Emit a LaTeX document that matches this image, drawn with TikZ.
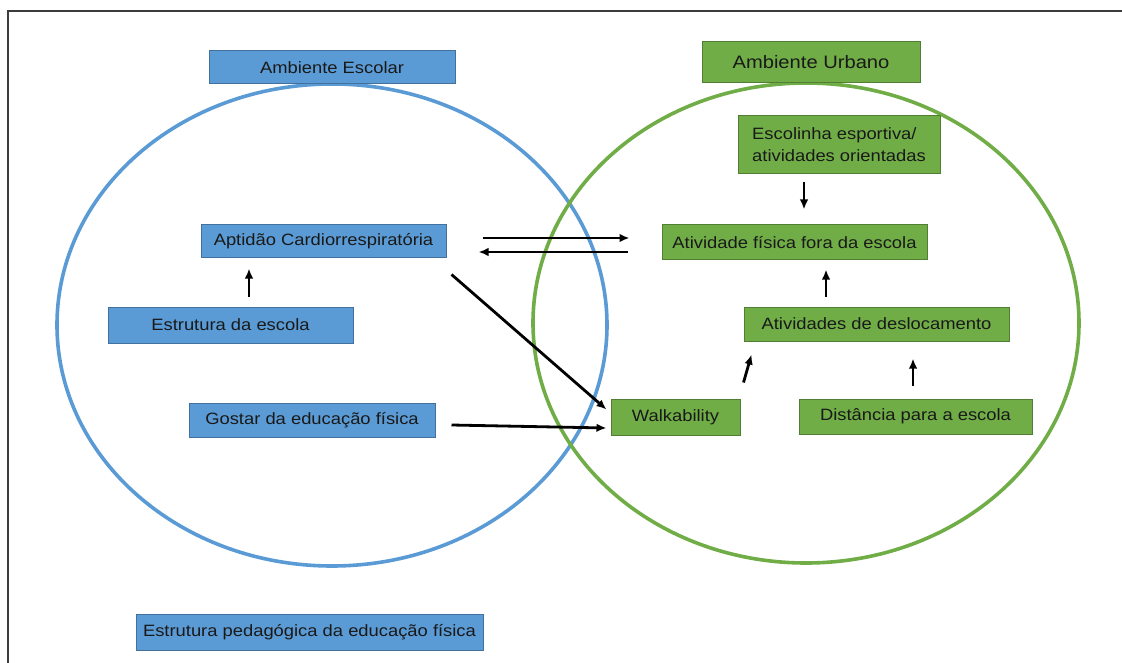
\documentclass[tikz,border=0pt]{standalone}
\usepackage{fontspec}
\setmainfont{Liberation Sans}[FakeStretch=1.12]
\usepackage{tikz}
\usetikzlibrary{arrows.meta,calc}
\definecolor{escfill}{RGB}{91,155,213}
\definecolor{escline}{RGB}{65,113,156}
\definecolor{urbfill}{RGB}{112,173,71}
\definecolor{urbline}{RGB}{80,126,50}
\definecolor{frame}{RGB}{60,60,60}

\begin{document}
\begin{tikzpicture}[x=1pt, y=-1pt, >={Latex[length=10pt,width=8.5pt]},
  box/.style={draw, line width=1pt, inner sep=0pt, text=black!90, font=\fontsize{16.4}{22}\selectfont},
  escbox/.style={box, fill=escfill, draw=escline},
  urbbox/.style={box, fill=urbfill, draw=urbline},
  arr/.style={->, line width=2.8pt}]

\useasboundingbox (0,0) rectangle (1122,663);
\draw[frame, line width=2pt] (8,663) -- (8,11) -- (1122,11);

% the two environments
\draw[escfill, line width=3.6pt] (332,325) ellipse [x radius=275pt, y radius=241pt];
\draw[urbfill, line width=3.6pt] (806,323) ellipse [x radius=273pt, y radius=240pt];

\node (escolar)[escbox, minimum width=246pt, minimum height=33pt] at (332,67.5) {Ambiente Escolar};
\node (aptidao)[escbox, minimum width=245pt, minimum height=33pt] at (323.5,241.5) {Aptidão Cardiorrespiratória};
\node (estrutura)[escbox, minimum width=245pt, minimum height=36pt] at (230.5,325) {Estrutura da escola};
\node (gostar)[escbox, minimum width=246pt, minimum height=34pt] at (312,420) {Gostar da educação física};
\node (pedag)[escbox, minimum width=347pt, minimum height=36pt] at (309.5,632) {Estrutura pedagógica da educação física};

\node (urbano)[urbbox, minimum width=218pt, minimum height=41pt, font=\fontsize{18}{22}\selectfont] at (811,62.5) {Ambiente Urbano};
\node (escolinha)[urbbox, minimum width=202pt, minimum height=58pt, align=left] at (839,145) {Escolinha esportiva/\\atividades orientadas};
\node (afora)[urbbox, minimum width=265pt, minimum height=35pt] at (794.5,242.5) {Atividade física fora da escola};
\node (desloc)[urbbox, minimum width=265pt, minimum height=34pt] at (876.5,324) {Atividades de deslocamento};
\node (walk)[urbbox, minimum width=129pt, minimum height=36pt] at (675.5,417) {Walkability};
\node (dist)[urbbox, minimum width=233pt, minimum height=35pt] at (915.5,416.5) {Distância para a escola};

\coordinate (c1) at (804,0);
\coordinate (c2) at (826,0);
\coordinate (c3) at (249,0);
\coordinate (c4) at (913,0);

\draw[arr, shorten <=8pt, shorten >=15pt] (escolinha.south -| c1) -- (afora.north -| c1);
\draw[arr, shorten <=10pt, shorten >=9pt] (desloc.north -| c2) -- (afora.south -| c2);
\draw[arr, shorten <=10pt, shorten >=10pt] (estrutura.north -| c3) -- (aptidao.south -| c3);
\draw[arr, shorten <=13pt, shorten >=17pt] (dist.north -| c4) -- (desloc.south -| c4);

\draw[arr] ($(aptidao.east)+(36,-3.5)$) -- ($(afora.west)+(-32,-4.5)$);
\draw[arr] ($(afora.west)+(-34,9.5)$) -- ($(aptidao.east)+(32,10.5)$);

\draw[arr] ($(aptidao.south east)+(5,16)$) -- ($(walk.north west)+(-4,11)$);
\draw[arr] ($(gostar.east)+(16,5)$) -- ($(walk.west)+(-4,11)$);
\draw[arr] ($(walk.north east)+(3,-16)$) -- ($(desloc.south west)+(8,13)$);
\end{tikzpicture}
\end{document}
